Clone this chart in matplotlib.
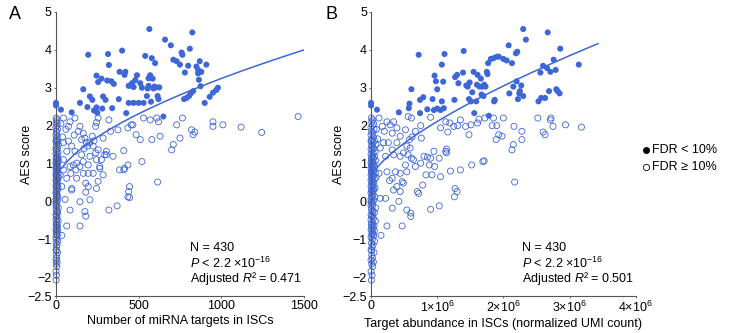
import matplotlib
matplotlib.use("Agg")
import matplotlib.pyplot as plt
import numpy as np
from matplotlib.lines import Line2D

plt.rcParams['font.family'] = ['Liberation Sans', 'DejaVu Sans']
plt.rcParams['mathtext.fontset'] = 'custom'
plt.rcParams['mathtext.rm'] = 'Liberation Sans'
plt.rcParams['mathtext.it'] = 'Liberation Sans:italic'

# ---------------- data ----------------
# Dense column of non-significant genes near x = 0 (same genes in both panels)
col_y = [-2.08, -1.95, -1.85, -1.72, -1.65, -1.6, -1.55, -1.5, -1.42, -1.35,
         -1.28, -1.2, -1.15, -1.1, -1.05, -1.0, -0.95, -0.9, -0.88, -0.85,
         -0.8, -0.75, -0.72, -0.68, -0.65, -0.6, -0.55, -0.52, -0.48, -0.45,
         -0.4, -0.38, -0.35, -0.3, -0.27, -0.25, -0.2, -0.17, -0.12, -0.1,
         -0.05, 0.0, 0.03, 0.06, 0.1, 0.12, 0.15, 0.18, 0.22, 0.25,
         0.28, 0.3, 0.35, 0.38, 0.4, 0.42, 0.45, 0.48, 0.5, 0.53,
         0.55, 0.58, 0.6, 0.63, 0.65, 0.68, 0.7, 0.73, 0.75, 0.78,
         0.8, 0.83, 0.85, 0.88, 0.9, 0.93, 0.95, 0.98, 1.0, 1.02,
         1.05, 1.08, 1.1, 1.13, 1.15, 1.18, 1.2, 1.25, 1.28, 1.3,
         1.35, 1.38, 1.4, 1.45, 1.48, 1.5, 1.55, 1.58, 1.6, 1.65,
         1.7, 1.75, 1.8, 1.85, 1.9, 1.95, 2.0, 2.05, 2.1, 2.15,
         2.2, -0.62, -0.02, 0.33, 0.72, 1.12, -1.3, -0.78, 0.9, 1.6]
colA_x = [1, 3, 0, 5, 2, 7, 0, 4, 2, 9,
          0, 3, 6, 1, 11, 4, 0, 8, 2, 5,
          3, 0, 6, 2, 9, 1, 4, 13, 0, 7,
          2, 5, 0, 10, 3, 6, 1, 14, 4, 0,
          5, 2, 8, 0, 3, 11, 2, 6, 0, 4,
          7, 1, 12, 3, 0, 5, 9, 2, 6, 3,
          0, 10, 4, 15, 2, 7, 0, 5, 13, 1,
          8, 3, 4, 0, 11, 6, 2, 9, 3, 0,
          5, 14, 1, 7, 2, 10, 4, 0, 6, 12,
          3, 0, 8, 4, 2, 15, 6, 1, 10, 3,
          7, 0, 5, 2, 9, 0, 4, 8, 2, 5,
          1, 4, 0, 7, 3, 6, 2, 10, 3, 0]
colB_x = [0.005, 0.015, 0.0, 0.025, 0.01, 0.035, 0.0, 0.02, 0.01, 0.045,
          0.0, 0.015, 0.03, 0.005, 0.055, 0.02, 0.0, 0.04, 0.01, 0.025,
          0.015, 0.0, 0.03, 0.01, 0.045, 0.005, 0.02, 0.065, 0.0, 0.035,
          0.01, 0.025, 0.0, 0.05, 0.015, 0.03, 0.005, 0.07, 0.02, 0.0,
          0.025, 0.01, 0.04, 0.0, 0.015, 0.055, 0.01, 0.03, 0.0, 0.02,
          0.035, 0.005, 0.06, 0.015, 0.0, 0.025, 0.045, 0.01, 0.03, 0.015,
          0.0, 0.05, 0.02, 0.075, 0.01, 0.035, 0.0, 0.025, 0.065, 0.005,
          0.04, 0.015, 0.02, 0.0, 0.055, 0.03, 0.01, 0.045, 0.015, 0.0,
          0.025, 0.07, 0.005, 0.035, 0.01, 0.05, 0.02, 0.0, 0.03, 0.06,
          0.015, 0.0, 0.04, 0.02, 0.01, 0.075, 0.03, 0.005, 0.05, 0.015,
          0.035, 0.0, 0.025, 0.01, 0.045, 0.0, 0.02, 0.04, 0.01, 0.025,
          0.005, 0.02, 0.0, 0.035, 0.015, 0.03, 0.01, 0.05, 0.015, 0.0]

# Panel A: significant (FDR < 10%) genes (number of targets, AES score)
sigA = [(0, 2.6), (0, 2.53), (30, 2.42), (95, 2.35), (145, 2.6), (165, 2.96),
        (190, 2.49), (195, 3.87), (205, 2.77), (220, 2.68), (245, 3.32), (245, 2.48),
        (250, 2.34), (255, 3.15), (275, 3.24), (280, 2.45), (285, 2.77), (300, 2.68),
        (310, 3.19), (315, 3.89), (320, 3.6), (335, 3.17), (340, 2.46), (380, 2.7),
        (385, 3.42), (400, 3.98), (415, 3.34), (420, 3.42), (425, 2.33), (440, 2.6),
        (450, 3.06), (460, 3.12), (470, 3.02), (480, 3.2), (490, 3.33), (500, 2.6),
        (510, 3.12), (530, 2.6), (540, 3.84), (550, 2.78), (560, 3.05), (565, 4.55),
        (570, 3.33), (575, 2.63), (580, 3.78), (585, 3.24), (595, 3.03), (600, 3.65),
        (605, 3.01), (615, 2.78), (620, 2.7), (625, 3.01), (650, 2.24), (660, 4.27),
        (695, 4.12), (710, 3.74), (730, 3.7), (750, 3.61), (760, 3.93), (765, 3.87),
        (775, 2.7), (780, 3.4), (790, 2.73), (800, 3.58), (805, 2.78), (810, 4.03),
        (815, 2.85), (825, 4.46), (830, 2.91), (850, 3.56), (860, 3.47), (865, 3.21),
        (870, 3.7), (875, 3.04), (880, 3.42), (900, 2.6), (910, 3.61), (930, 2.76),
        (950, 2.87), (970, 2.94), (980, 3.0), (590, 2.98), (555, 2.98), (470, 2.6),
        (440, 3.05), (350, 3.1), (230, 2.4), (520, 3.0), (860, 3.38), (560, 3.25)]

# Panel A: non-significant genes away from x = 0
nsA = [(45, 2.2), (75, 1.98), (85, 2.1), (115, 2.2), (145, 1.98), (135, 1.85),
       (165, 1.8), (175, 1.67), (155, 1.63), (190, 1.46), (205, 1.55), (220, 1.72),
       (240, 1.98), (245, 2.08), (255, 2.2), (285, 1.67), (305, 1.32), (320, 2.15),
       (330, 1.85), (345, 1.19), (375, 1.89), (410, 0.83), (410, 1.34), (435, 0.96),
       (435, 1.94), (455, 2.02), (465, 2.02), (485, 1.76), (510, 1.63), (520, 1.05),
       (530, 2.2), (570, 2.15), (580, 1.63), (610, 2.2), (620, 2.1), (630, 1.72),
       (730, 2.02), (700, 1.36), (710, 1.5), (750, 1.67), (765, 2.2), (820, 1.89),
       (830, 1.76), (840, 1.83), (950, 1.98), (950, 2.1), (1010, 2.02), (1120, 1.96),
       (1245, 1.82), (1465, 2.24),
       (615, 0.51), (415, 0.87), (385, 0.83), (445, 0.39), (440, 0.26), (435, 0.12),
       (445, 0.1), (370, -0.12), (320, -0.23), (175, -0.27), (180, -0.39), (145, -0.65),
       (65, -0.65), (145, -0.01), (95, 0.3), (95, 0.34), (125, 0.61), (180, 0.48),
       (205, 0.04), (245, 0.34), (265, 0.87), (285, 0.7), (275, 1.1), (225, 0.74),
       (195, 0.96), (165, 1.05), (155, 1.23), (120, 0.83), (90, 0.74), (65, 0.61),
       (85, -0.23), (55, 0.05), (35, 0.39), (245, 1.1), (255, 1.36), (240, 1.28),
       (265, 0.92), (255, 0.53), (180, 0.24), (195, 0.39), (295, 1.23), (305, 1.23),
       (225, 1.46), (205, 1.19), (115, 1.32), (95, 1.46), (65, 1.32), (45, 1.1),
       (85, 0.92), (125, 1.01), (165, 0.74), (195, 0.74), (145, 0.92), (105, 0.96),
       (45, 0.83), (25, 0.7), (185, 1.55), (75, 1.59), (45, 1.55), (60, 1.9),
       (110, 1.75), (170, 1.4), (230, 1.6), (35, -0.9), (40, 1.7), (30, 2.05)]

# Panel B: significant genes (target abundance in units of 1e6, AES score)
sigB = [(0, 2.6), (0, 2.53), (0.09, 2.42), (0.42, 2.35), (0.57, 2.46), (0.58, 2.58),
        (0.61, 2.96), (0.74, 2.33), (0.74, 2.68), (0.72, 3.87), (0.79, 2.75), (0.85, 2.43),
        (0.93, 2.7), (0.95, 2.41), (0.96, 3.32), (0.98, 3.17), (1.0, 2.96), (1.0, 2.45),
        (1.05, 2.41), (1.07, 2.64), (1.07, 3.61), (1.09, 3.16), (1.1, 2.46), (1.11, 3.89),
        (1.26, 2.68), (1.27, 3.28), (1.3, 3.34), (1.32, 3.12), (1.39, 3.4), (1.40, 3.97),
        (1.44, 3.06), (1.46, 3.03), (1.48, 2.7), (1.49, 3.14), (1.51, 2.64), (1.53, 2.88),
        (1.55, 3.42), (1.56, 2.33), (1.59, 2.64), (1.6, 3.08), (1.61, 3.34), (1.64, 3.03),
        (1.66, 3.24), (1.67, 2.82), (1.68, 3.03), (1.70, 2.78), (1.71, 3.08), (1.73, 3.03),
        (1.75, 3.42), (1.76, 3.36), (1.77, 3.65), (1.78, 2.26), (1.81, 3.76), (1.85, 3.78),
        (1.86, 2.64), (1.87, 2.68), (1.9, 3.82), (1.93, 3.82), (2.0, 3.76), (2.05, 3.72),
        (2.08, 4.12), (2.09, 2.85), (2.13, 3.65), (2.15, 3.03), (2.19, 3.91), (2.2, 3.17),
        (2.21, 3.95), (2.22, 2.7), (2.24, 2.85), (2.25, 2.91), (2.27, 3.06), (2.3, 4.55),
        (2.3, 2.78), (2.34, 4.27), (2.53, 2.64), (2.56, 3.4), (2.57, 2.73), (2.60, 3.58),
        (2.63, 2.73), (2.66, 3.52), (2.67, 4.46), (2.69, 2.91), (2.71, 3.42), (2.76, 3.74),
        (2.79, 3.47), (2.80, 2.96), (2.82, 2.91), (2.85, 2.85), (2.86, 4.03), (3.14, 3.61)]

# Panel B: non-significant genes away from x = 0
nsB = [(0.12, 2.2), (0.17, 1.98), (0.24, 2.1), (0.29, 2.02), (0.32, 1.8), (0.34, 2.1),
       (0.39, 1.94), (0.44, 1.72), (0.52, 1.89), (0.56, 2.24), (0.58, 1.63), (0.61, 2.2),
       (0.67, 1.85), (0.75, 2.0), (0.76, 1.67), (0.9, 2.22), (1.05, 1.94), (1.13, 2.1),
       (1.16, 1.83), (1.19, 2.07), (1.25, 1.98), (1.31, 2.0), (1.35, 2.15), (1.43, 1.98),
       (1.48, 1.76), (1.51, 2.02), (1.61, 2.07), (1.63, 2.17), (1.72, 2.2), (1.83, 2.0),
       (1.85, 2.2), (1.89, 1.63), (1.9, 2.0), (1.93, 1.76), (1.98, 1.72), (2.0, 2.2),
       (2.13, 1.36), (2.15, 1.5), (2.16, 1.98), (2.28, 1.85), (2.28, 1.63), (2.52, 2.2),
       (2.60, 1.83), (2.63, 1.76), (2.71, 2.15), (2.72, 2.2), (2.75, 1.98), (2.94, 2.02),
       (3.18, 1.96),
       (2.17, 0.51), (1.03, 1.14), (1.13, 1.32), (1.14, 1.38), (1.14, 1.28), (0.96, 0.92),
       (0.92, 0.7), (1.05, 0.65), (1.2, 0.8), (1.35, 0.83), (1.27, 0.34), (1.26, 0.12),
       (1.3, 0.26), (1.52, 0.96), (1.69, 1.05), (1.71, 1.07), (1.03, -0.12), (0.90, -0.21),
       (0.70, 0.26), (0.78, 0.43), (0.83, 0.7), (0.88, 0.96), (0.85, 1.17), (0.80, 1.19),
       (0.75, 1.01), (0.67, 0.92), (0.61, 1.14), (0.56, 1.23), (0.59, 1.41), (0.54, 1.46),
       (0.49, 1.28), (0.44, 1.19), (0.39, 1.55), (0.32, 1.36), (0.26, 1.55), (0.22, 1.19),
       (0.19, 1.55), (0.14, 1.41), (0.12, 0.74), (0.24, 0.78), (0.32, 0.61), (0.34, 0.3),
       (0.39, 0.39), (0.44, 0.26), (0.47, 0.52), (0.49, 0.48), (0.54, 0.78), (0.42, 0.0),
       (0.32, -0.18), (0.22, 0.08), (0.14, 0.08), (0.60, -0.31), (0.54, -0.23), (0.60, -0.4),
       (0.24, -0.65), (0.47, -0.65), (0.34, 1.23), (0.37, 0.78), (0.52, 0.96), (0.64, 1.1),
       (0.72, 0.21), (0.44, 0.74), (0.9, 1.14), (0.95, 1.32), (0.2, 1.85), (0.1, 1.65),
       (0.15, -0.9), (0.08, 1.9), (0.28, 0.55), (0.62, 1.7)]

# Fitted curves: y = a + b * x**p
fitA = dict(a=0.505, b=0.0434, p=0.6, x0=35, x1=1500)
fitB = dict(a=0.61, b=1.5, p=0.7, x0=0.08, x1=3.43)

statsA = ["N = 430", r"$P$ < 2.2 ×10$^{-16}$", r"Adjusted $R$² = 0.471"]
statsB = ["N = 430", r"$P$ < 2.2 ×10$^{-16}$", r"Adjusted $R$² = 0.501"]

yticks = [-2.5, -2, -1, 0, 1, 2, 3, 4, 5]
ytick_labels = ["−2.5", "−2", "−1", "0", "1", "2", "3", "4", "5"]
xticksA = [0, 500, 1000, 1500]
xticksB = [0, 1, 2, 3, 4]
xtick_labelsB = ["0", r"1×10$^{6}$", r"2×10$^{6}$", r"3×10$^{6}$", r"4×10$^{6}$"]
legend_labels = ["FDR < 10%", "FDR ≥ 10%"]

# ---------------- plot ----------------
BLUE = "#3d66d6"
fig = plt.figure(figsize=(7.29, 3.33), dpi=100)
axA = fig.add_axes([0.0768, 0.111, 0.340, 0.853])
axB = fig.add_axes([0.509, 0.111, 0.363, 0.853])

FS = 9
MS = 19

def draw(ax, colx, sig, ns, fit, xlim, xticks, xlabels, xlabel, stats, sx, ylx):
    nx = [p[0] for p in ns] + list(colx)
    ny = [p[1] for p in ns] + list(col_y)
    ax.scatter(nx, ny, s=MS, facecolors='none', edgecolors=BLUE, linewidths=0.6,
               clip_on=False, zorder=2)
    ax.scatter([p[0] for p in sig], [p[1] for p in sig], s=MS, color=BLUE,
               edgecolors='none', clip_on=False, zorder=3)
    xs = np.linspace(fit['x0'], fit['x1'], 200)
    ax.plot(xs, fit['a'] + fit['b'] * xs ** fit['p'], color=BLUE, lw=1.1, zorder=4)
    ax.set_xlim(*xlim)
    ax.set_ylim(-2.5, 5)
    ax.set_yticks(yticks)
    ax.set_yticklabels(ytick_labels, fontsize=FS)
    ax.set_xticks(xticks)
    ax.set_xticklabels(xlabels, fontsize=FS)
    ax.set_xlabel(xlabel, fontsize=FS, labelpad=2)
    ax.set_ylabel("AES score", fontsize=FS)
    ax.yaxis.set_label_coords(ylx, 0.5)
    for s in ['top', 'right']:
        ax.spines[s].set_visible(False)
    for s in ['left', 'bottom']:
        ax.spines[s].set_color('#555555')
        ax.spines[s].set_linewidth(0.8)
    ax.tick_params(direction='out', length=1.5, width=0.6, colors='#555555',
                   labelcolor='black', pad=1.5)
    for i, t in enumerate(stats):
        ax.text(sx, 0.169 - i * 0.053, t, transform=ax.transAxes, fontsize=FS,
                va='center', ha='left')

draw(axA, colA_x, sigA, nsA, fitA, (0, 1500), xticksA, [str(v) for v in xticksA],
     "Number of miRNA targets in ISCs", statsA, 0.54, -0.092)
draw(axB, colB_x, sigB, nsB, fitB, (0, 4), xticksB, xtick_labelsB,
     "Target abundance in ISCs (normalized UMI count)", statsB, 0.57, -0.098)

fig.text(0.012, 0.955, "A", fontsize=13, va='center')
fig.text(0.446, 0.955, "B", fontsize=13, va='center')

# legend
leg_y = [1 - 150 / 333, 1 - 167 / 333]
fig.add_artist(Line2D([0.8855], [leg_y[0]], transform=fig.transFigure, marker='o',
                      ls='none', color='black', markersize=4))
fig.add_artist(Line2D([0.8855], [leg_y[1]], transform=fig.transFigure, marker='o',
                      ls='none', markerfacecolor='none', markeredgecolor='black',
                      markeredgewidth=0.6, markersize=4.5))
for yy, lab in zip(leg_y, legend_labels):
    fig.text(0.895, yy, lab, fontsize=FS, va='center', ha='left')

fig.savefig("out.png", dpi=100)
